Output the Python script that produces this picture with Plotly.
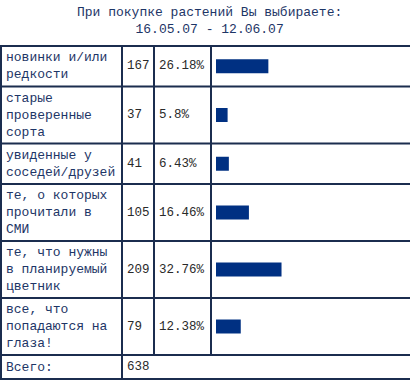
import plotly.graph_objects as go

# ---- data ----
title_lines = ["При покупке растений Вы выбираете:", "16.05.07 - 12.06.07"]
labels = [
    ["новинки и/или", "редкости"],
    ["старые", "проверенные", "сорта"],
    ["увиденные у", "соседей/друзей"],
    ["те, о которых", "прочитали в", "СМИ"],
    ["те, что нужны", "в планируемый", "цветник"],
    ["все, что", "попадаются на", "глаза!"],
]
counts = [167, 37, 41, 105, 209, 79]
percents = [26.18, 5.8, 6.43, 16.46, 32.76, 12.38]
total_label = "Всего:"
total_value = 638

# ---- layout constants ----
W, H = 410, 380
TOP = 46.0
LINE_H = 16.5
PAD = 7.5
COL_X = [1, 122, 154, 211]   # vertical grid lines
BAR_X0 = 216
PX_PER_PCT = 2.0
NAVY = "#1d3566"
GRID = "#1b2d4f"
BAR = "#003082"
NUM = "#2a2a2a"
FONT = "Liberation Mono, Courier New, monospace"

# row boundaries derived from number of text lines
bounds = [TOP]
for lab in labels:
    bounds.append(bounds[-1] + len(lab) * LINE_H + PAD)
bounds.append(bounds[-1] + LINE_H + PAD)  # total row
centers = [(bounds[i] + bounds[i + 1]) / 2 for i in range(len(bounds) - 1)]

fig = go.Figure()

# bars on their own x axis: 1 % = 2 px
fig.add_trace(go.Bar(
    x=percents, y=centers[:len(percents)], orientation="h",
    width=14, marker=dict(color=BAR, line=dict(width=0)),
    xaxis="x2", yaxis="y", hoverinfo="skip", showlegend=False,
))

shapes = []
for b in bounds:
    shapes.append(dict(type="line", x0=0, x1=W, y0=b, y1=b, xref="x", yref="y",
                       line=dict(color=GRID, width=2)))
for i, cx in enumerate(COL_X):
    y1 = bounds[-1] if i < 2 else bounds[-2]
    shapes.append(dict(type="line", x0=cx, x1=cx, y0=bounds[0], y1=y1, xref="x", yref="y",
                       line=dict(color=GRID, width=2)))

ann = []
ann.append(dict(x=W / 2 + 4, y=20.5, xref="x", yref="y", text="<br>".join(title_lines),
                showarrow=False, xanchor="center", yanchor="middle",
                font=dict(family=FONT, size=13, color=NAVY)))
for i, lab in enumerate(labels):
    ann.append(dict(x=4, y=centers[i], xref="x", yref="y", text="<br>".join(lab),
                    showarrow=False, xanchor="left", yanchor="middle", align="left",
                    font=dict(family=FONT, size=13, color=NAVY)))
    ann.append(dict(x=125, y=centers[i], xref="x", yref="y", text=str(counts[i]),
                    showarrow=False, xanchor="left", yanchor="middle",
                    font=dict(family=FONT, size=12.5, color=NUM)))
    ann.append(dict(x=157, y=centers[i], xref="x", yref="y", text=f"{percents[i]}%",
                    showarrow=False, xanchor="left", yanchor="middle",
                    font=dict(family=FONT, size=12.5, color=NUM)))
ann.append(dict(x=4, y=centers[-1], xref="x", yref="y", text=total_label,
                showarrow=False, xanchor="left", yanchor="middle",
                font=dict(family=FONT, size=13, color=NAVY)))
ann.append(dict(x=125, y=centers[-1], xref="x", yref="y", text=str(total_value),
                showarrow=False, xanchor="left", yanchor="middle",
                font=dict(family=FONT, size=12.5, color=NUM)))

fig.update_layout(
    width=W, height=H,
    margin=dict(l=0, r=0, t=0, b=0),
    paper_bgcolor="white", plot_bgcolor="white",
    xaxis=dict(range=[0, W], visible=False, fixedrange=True),
    xaxis2=dict(range=[0, (W - BAR_X0) / PX_PER_PCT], domain=[BAR_X0 / W, 1],
                anchor="y", visible=False, fixedrange=True),
    yaxis=dict(range=[H, 0], visible=False, fixedrange=True),
    shapes=shapes, annotations=ann, showlegend=False,
)

fig.write_html("out.html", config={"displayModeBar": False},
               post_script="document.body.style.margin='0';document.body.style.overflow='hidden';")
